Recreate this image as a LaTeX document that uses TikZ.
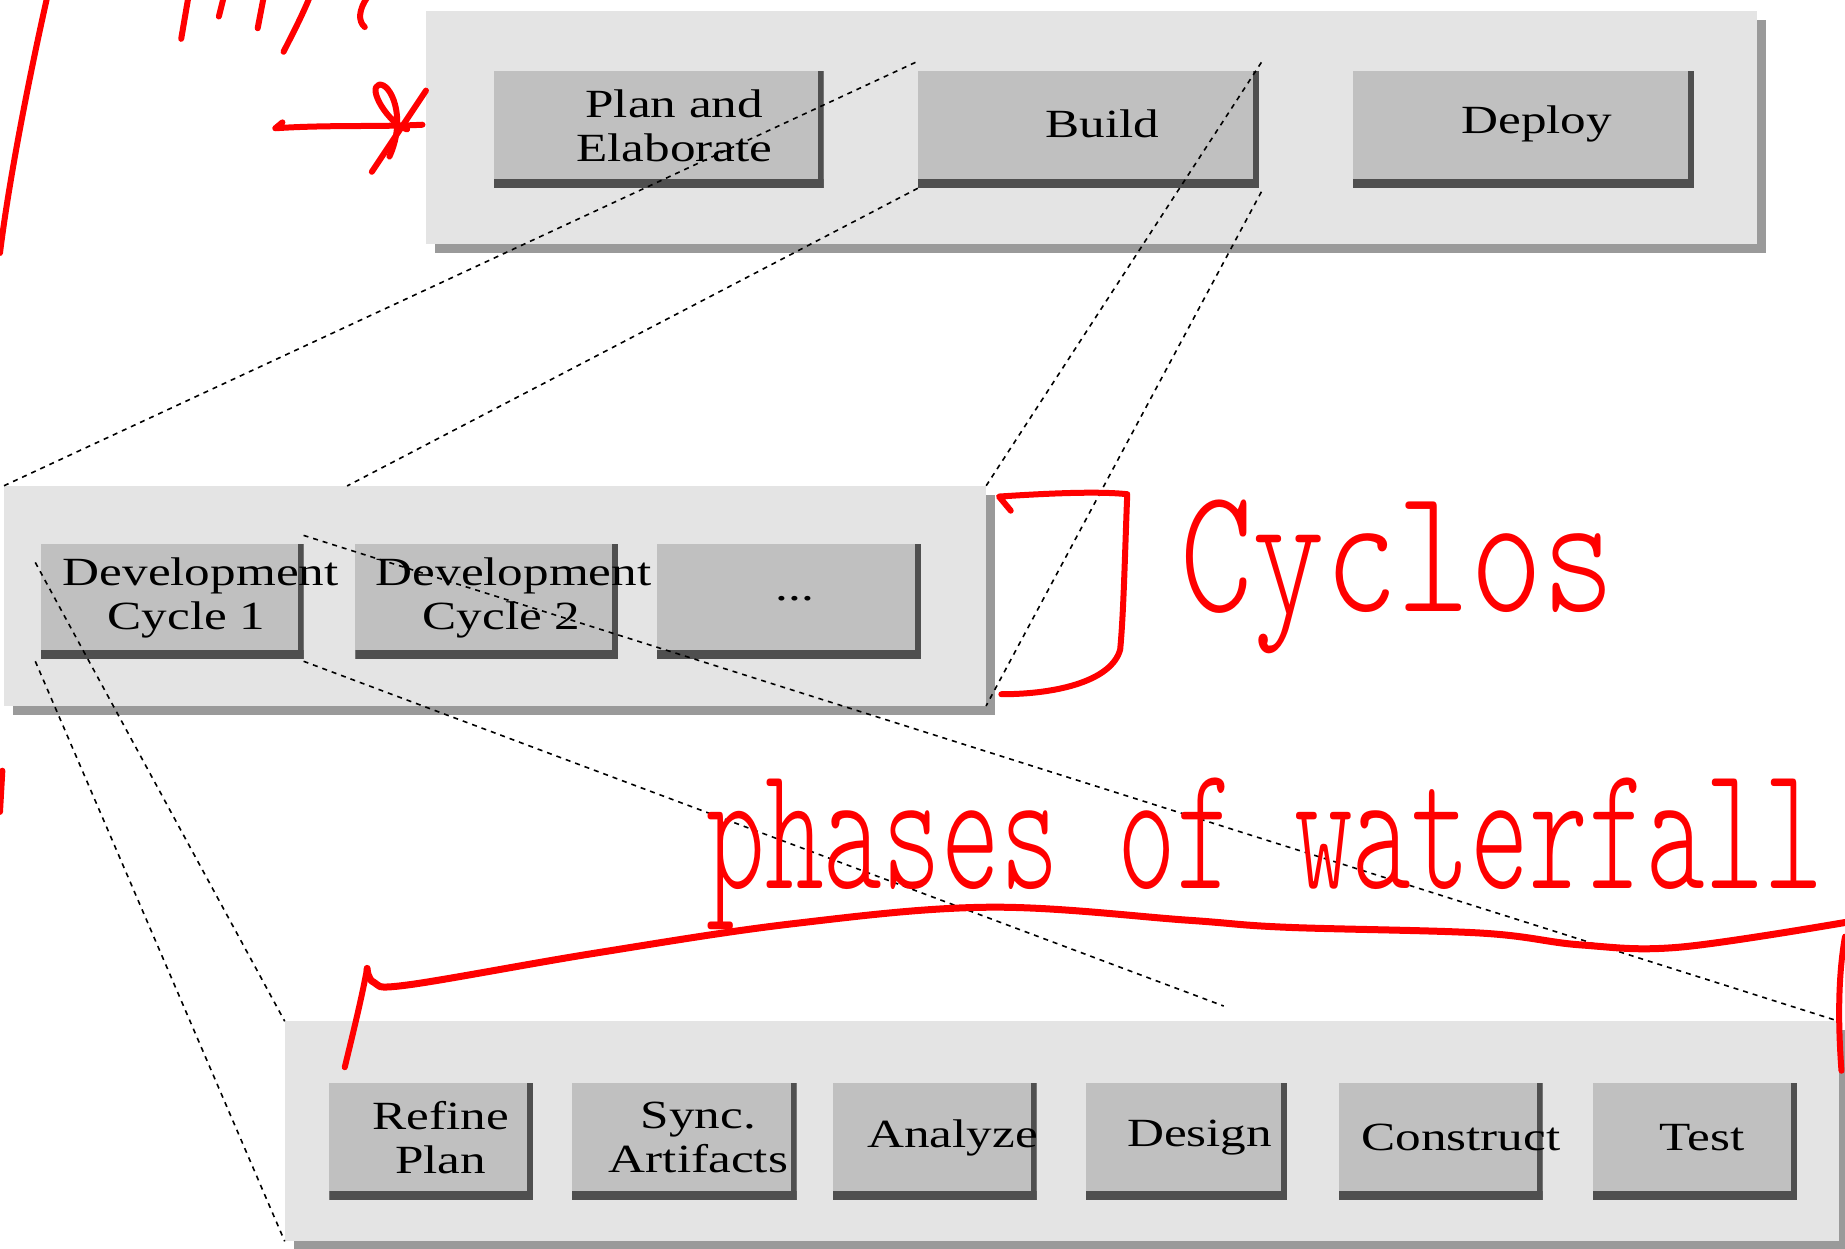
\documentclass[tikz,border=0pt]{standalone}
\usepackage{fontspec}
\newfontfamily\boxfont[FakeStretch=1.28]{Liberation Serif}
\usetikzlibrary{fit,shadows}

\definecolor{panelgray}{HTML}{E4E4E4}
\definecolor{panelshade}{HTML}{9A9A9A}
\definecolor{btngray}{HTML}{C0C0C0}
\definecolor{btndark}{HTML}{4F4F4F}
\definecolor{inkred}{HTML}{FF0000}

\tikzset{
  panel/.style={fill=panelgray, inner sep=0pt, outer sep=0pt,
    drop shadow={shadow xshift=9pt, shadow yshift=-9pt, fill=panelshade, opacity=1}},
  button/.style={fill=btngray, inner sep=0pt, outer sep=0pt,
    path picture={
      \fill[btndark] (path picture bounding box.south west) rectangle
        ([yshift=9pt]path picture bounding box.south east);
      \fill[btndark] ([xshift=-6pt]path picture bounding box.south east) rectangle
        (path picture bounding box.north east);
    }},
  btntext/.style={font=\boxfont\fontsize{40}{44}\selectfont, align=center, inner sep=0pt},
  zoomline/.style={draw=black, line width=1.6pt, dash pattern=on 5pt off 5pt},
  ink/.style={draw=inkred, line width=6pt, line cap=round, line join=round},
  inktext/.style={text=inkred, inner sep=0pt, anchor=base west},
}

% raised button: name, left, top, right, bottom, label shift, label
\newcommand\btn[7]{%
  \node[button, fit={(#2,#3) (#4,#5)}] (#1) {};
  \node[btntext] (#1-label) at ([shift={(#6)}]#1.center) {#7};}

\begin{document}
\begin{tikzpicture}[x=1.1767pt, y=-1.1767pt]
\useasboundingbox (0,0) rectangle (1568,1061);
\clip (0,0) rectangle (1568,1061);

% ---- project phases ----
\node[panel, fit={(362,9) (1493,207)}] (lifecycle) {};
\btn{plan}{420}{60}{700}{160}{13,-3}{Plan and\\Elaborate}
\btn{build}{780}{60}{1070}{160}{12,-5}{Build}
\btn{deploy}{1150}{60}{1440}{160}{11,-5}{Deploy}

% ---- development cycles ----
\node[panel, fit={(3,413) (838,600)}] (cycles) {};
\btn{dev1}{35}{462}{258}{560}{24,-3}{Development\\Cycle 1\hspace*{28pt}}
\btn{dev2}{302}{462}{525}{560}{23,-3}{Development\\Cycle 2\hspace*{24pt}}
\btn{more}{558}{462}{783}{560}{5,-2}{...}

% Build expands into the cycles
\coordinate (cyctop) at (295,413);
\draw[zoomline] ([shift={(-2,-7)}]build.north west) -- (cycles.north west);
\draw[zoomline] (build.south west) -- (cyctop);
\draw[zoomline] ([shift={(2,-7)}]build.north east) -- (cycles.north east);
\draw[zoomline] ([shift={(2,3)}]build.south east) -- (cycles.south east);

% ---- steps of one cycle ----
\node[panel, fit={(242,868) (1563,1055)}] (steps) {};
\btn{refine}{280}{920}{453}{1020}{8,-3}{Refine\\Plan}
\btn{sync}{486}{920}{677}{1020}{12,-3}{Sync.\\Artifacts}
\btn{analyze}{708}{920}{881}{1020}{15,-3}{Analyze}
\btn{design}{923}{920}{1094}{1020}{11,-3}{Design}
\btn{construct}{1138}{920}{1311}{1020}{17,-3}{Construct}
\btn{test}{1354}{920}{1527}{1020}{6,-3}{Test}

% Cycle 1 expands into its steps
\coordinate (stepsgap) at (1040,855);
\draw[zoomline] ([shift={(-5,16)}]dev1.north west) -- (steps.north west);
\draw[zoomline] ([shift={(-5,2)}]dev1.south west) -- (steps.south west);
\draw[zoomline] ([shift={(0,-7)}]dev1.north east) -- (steps.north east);
\draw[zoomline] ([shift={(0,2)}]dev1.south east) -- (stepsgap);

% ---- red pen notes ----
\draw[ink] (40,-2) .. controls (26,60) and (8,150) .. (0,215);
\draw[ink] (2,655) -- (0,690);
\draw[ink] (160,-2) -- (154,33);
\draw[ink] (190,-2) -- (186,14);
\draw[ink] (224,-2) -- (219,24);
\draw[ink] (263,-2) .. controls (256,15) and (248,30) .. (241,44);
\draw[ink] (312,-2) .. controls (305,8) and (304,18) .. (310,23);

% arrow into the phases
\draw[ink] (240,104) -- (234,109) .. controls (280,106) and (320,108) .. (359,106);
\draw[ink] (316,146) -- (362,77);
\draw[ink] (331,133) .. controls (346,100) and (332,70) .. (322,72)
  .. controls (312,75) and (330,105) .. (346,110);

% bracket round the cycles
\draw[ink] (859,434) -- (849,422) .. controls (880,420) and (930,417) .. (958,420)
  .. controls (956,470) and (955,520) .. (952,552)
  .. controls (945,578) and (900,590) .. (851,590);
\node[inktext, font=\ttfamily\fontseries{l}\fontsize{138}{140}\selectfont] (cyclosnote)
  at (1003,520) {\scalebox{1}[1.3]{Cyclos}};

% brace over the steps
\draw[ink] (293,907) .. controls (302,870) and (308,845) .. (312,823);
\draw[ink, line width=7pt] plot[smooth, tension=0.6] coordinates {(312,823) (318,835) (347,837)
  (506,810) (674,785) (841,771) (1009,782) (1092,788) (1259,793) (1343,803)
  (1427,805) (1568,784)};
\draw[ink] (1568,796) .. controls (1562,830) and (1562,870) .. (1565,910);
\node[inktext, font=\ttfamily\fontseries{l}\fontsize{112}{112}\selectfont] (phasesnote)
  at (600,755) {\scalebox{1}[1.6]{phases of waterfall}};
\end{tikzpicture}
\end{document}
